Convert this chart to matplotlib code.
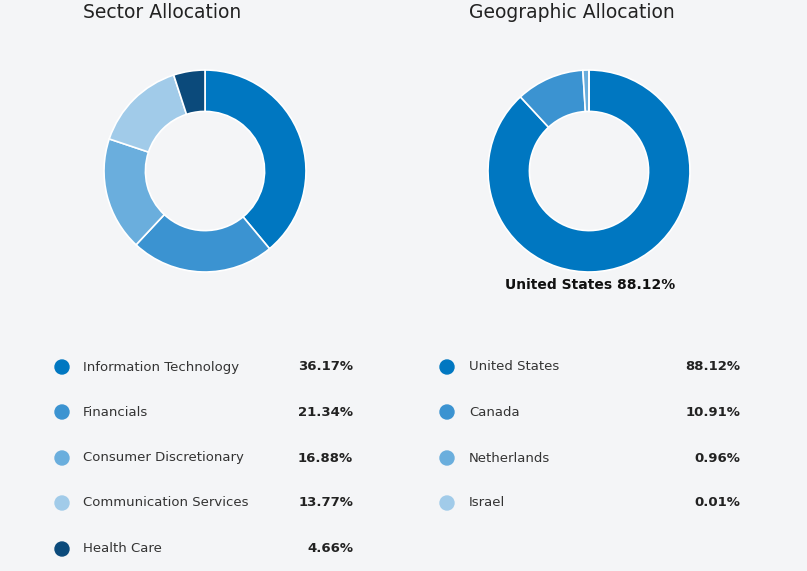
import matplotlib.pyplot as plt
from matplotlib.patches import Ellipse

sector_names = ["Information Technology", "Financials", "Consumer Discretionary",
                "Communication Services", "Health Care"]
sector_vals = [36.17, 21.34, 16.88, 13.77, 4.66]
sector_colors = ["#0077c1", "#3b93d1", "#6aaedd", "#a1cbe9", "#0b4a7b"]

geo_names = ["United States", "Canada", "Netherlands", "Israel"]
geo_vals = [88.12, 10.91, 0.96, 0.01]
geo_colors = ["#0077c1", "#3b93d1", "#6aaedd", "#a1cbe9"]

W, H = 807, 571
BG = "#f4f5f7"
fig = plt.figure(figsize=(W / 100, H / 100), dpi=100, facecolor=BG)


def donut(cx, cy, r, vals, colors):
    ax = fig.add_axes([(cx - r) / W, 1 - (cy + r) / H, 2 * r / W, 2 * r / H])
    ax.pie(vals, colors=colors, startangle=90, counterclock=False,
           wedgeprops=dict(width=0.41, edgecolor="white", linewidth=1.2))
    ax.set_xlim(-1.01, 1.01)
    ax.set_ylim(-1.01, 1.01)
    ax.set_aspect("equal")
    ax.axis("off")


donut(205, 171, 102, sector_vals, sector_colors)
donut(589, 171, 102, geo_vals, geo_colors)

fig.text(162 / W, 1 - 13 / H, "Sector Allocation", ha="center", va="center",
         fontsize=13.5, color="#222222")
fig.text(572 / W, 1 - 13 / H, "Geographic Allocation", ha="center", va="center",
         fontsize=13.5, color="#222222")
fig.text(590 / W, 1 - 285 / H, f"United States {geo_vals[0]:.2f}%", ha="center",
         va="center", fontsize=10, fontweight="bold", color="#111111")

rows_y = [367, 412, 458, 503, 549]


def legend(x_dot, x_lab, x_val, names, vals, colors):
    for y, n, v, c in zip(rows_y, names, vals, colors):
        fig.patches.append(Ellipse((x_dot / W, 1 - y / H), 14 / W, 14 / H, color=c,
                                   transform=fig.transFigure, figure=fig))
        fig.text(x_lab / W, 1 - y / H, n, ha="left", va="center", fontsize=9.5,
                 color="#333333")
        fig.text(x_val / W, 1 - y / H, f"{v:.2f}%", ha="right", va="center",
                 fontsize=9.5, fontweight="bold", color="#222222")


legend(62, 83, 353, sector_names, sector_vals, sector_colors)
legend(447, 469, 740, geo_names, geo_vals, geo_colors)

fig.savefig("out.png", dpi=100, facecolor=BG)
